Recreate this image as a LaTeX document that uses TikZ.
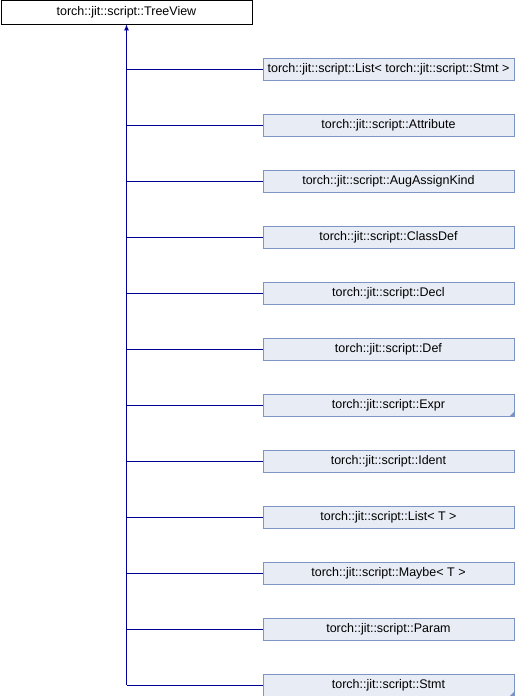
\documentclass[tikz,border=0pt]{standalone}
\usepackage{fontspec}
\setmainfont{Liberation Sans}
\usetikzlibrary{arrows.meta}
\definecolor{edgeblue}{RGB}{0,0,150}
\definecolor{boxfill}{RGB}{232,236,244}
\definecolor{boxline}{RGB}{124,149,198}
\begin{document}
\begin{tikzpicture}[x=1pt,y=-1pt,
  basebox/.style={draw=black,fill=white,line width=0.9pt,minimum width=251pt,minimum height=23pt,inner sep=0pt,anchor=north west,font=\fontsize{12.5}{14}\selectfont},
  childbox/.style={draw=boxline,fill=boxfill,line width=0.9pt,minimum width=251pt,minimum height=22pt,inner sep=0pt,anchor=west,font=\fontsize{12.5}{14}\selectfont},
  inherit/.style={draw=edgeblue,line width=1pt},
  corner/.style={fill=boxline,draw=none}]
\useasboundingbox (0,0) rectangle (514,696);
\node[basebox] (base) at (0.5,0.5) {torch::jit::script::TreeView};
\foreach \i/\name/\txt in {0/c0/{torch::jit::script::List< torch::jit::script::Stmt >},
  1/c1/{torch::jit::script::Attribute},
  2/c2/{torch::jit::script::AugAssignKind},
  3/c3/{torch::jit::script::ClassDef},
  4/c4/{torch::jit::script::Decl},
  5/c5/{torch::jit::script::Def},
  6/c6/{torch::jit::script::Expr},
  7/c7/{torch::jit::script::Ident},
  8/c8/{torch::jit::script::List< T >},
  9/c9/{torch::jit::script::Maybe< T >},
  10/c10/{torch::jit::script::Param},
  11/c11/{torch::jit::script::Stmt}}{
  \node[childbox] (\name) at (262.5,{69+56*\i}) {\txt};
  \coordinate (j\name) at (126.5,{69+56*\i});
  \draw[inherit] (j\name) -- (\name.west);
}
\draw[inherit,-{Latex[length=6pt,width=5pt]}] (jc11) -- (base.south -| jc11);
\fill[corner] (c6.south east) -- ++(0,-5) -- ++(-5,5) -- cycle;
\fill[corner] (c11.south east) -- ++(0,-5) -- ++(-5,5) -- cycle;
\end{tikzpicture}
\end{document}
